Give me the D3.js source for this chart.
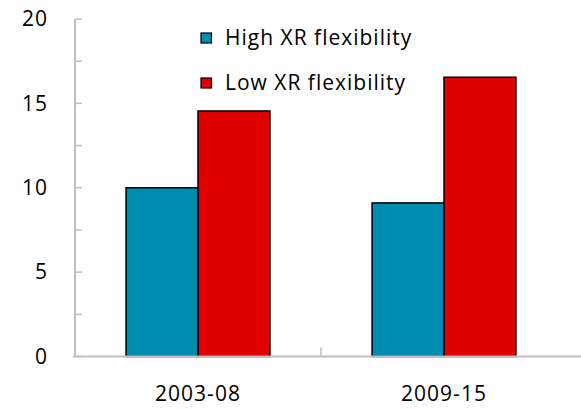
<!DOCTYPE html>
<html><head><meta charset="utf-8">
<script src="https://cdn.jsdelivr.net/npm/d3@7"></script>
<style>body{margin:0;background:#fff}text{font-family:"Open Sans","Noto Sans",sans-serif;fill:#000;letter-spacing:1px}</style>
</head><body><svg id="c" width="581" height="409"></svg>
<script>
const categories = ["2003-08", "2009-15"];
const seriesNames = ["High XR flexibility", "Low XR flexibility"];
const highXR = [10.0, 9.1];
const lowXR = [14.55, 16.55];
const yTicks = [0, 5, 10, 15, 20];
const colors = ["#008CB0", "#E00000"];

const svg = d3.select("#c");
const m = {l: 75, r: 14, t: 19, b: 52};
const W = 581, H = 409;
const x0 = d3.scaleBand().domain(categories).range([m.l, W - m.r]).paddingInner(0).paddingOuter(0);
const x1 = d3.scaleBand().domain(seriesNames).range([0, x0.bandwidth()]).paddingInner(0).paddingOuter(0.71);
const y = d3.scaleLinear().domain([0, 20]).range([356.5, m.t]);

const axisColor = "#BFBFBF";
// y axis
svg.append("line").attr("x1", m.l).attr("x2", m.l).attr("y1", y(20)).attr("y2", y(0)).attr("stroke", axisColor).attr("stroke-width", 2);
const minor = d3.range(0, 20.01, 2.5);
svg.selectAll(".yt").data(minor).join("line").attr("x1", m.l).attr("x2", m.l + 7)
  .attr("y1", d => y(d)).attr("y2", d => y(d)).attr("stroke", axisColor).attr("stroke-width", 1.5);
svg.selectAll(".yl").data(yTicks).join("text").attr("x", 48).attr("y", d => y(d)).attr("dy", "0.35em")
  .attr("text-anchor", "end").attr("font-size", 21).text(d => d);

// bars
const data = categories.map((c, i) => ({c, vals: [highXR[i], lowXR[i]]}));
const g = svg.selectAll(".grp").data(data).join("g").attr("transform", d => `translate(${x0(d.c)},0)`);
g.selectAll("rect").data(d => d.vals.map((v, j) => ({s: seriesNames[j], v, j}))).join("rect")
  .attr("x", d => x1(d.s)).attr("width", x1.bandwidth())
  .attr("y", d => y(d.v)).attr("height", d => y(0) - y(d.v))
  .attr("fill", d => colors[d.j]).attr("stroke", "#000").attr("stroke-width", 1.5);

// x axis
svg.append("line").attr("x1", m.l - 2).attr("x2", W).attr("y1", y(0)).attr("y2", y(0)).attr("stroke", axisColor).attr("stroke-width", 2);
svg.selectAll(".xt").data(categories.slice(1)).join("line").attr("x1", d => x0(d)).attr("x2", d => x0(d))
  .attr("y1", y(0)).attr("y2", y(0) - 9).attr("stroke", axisColor).attr("stroke-width", 1.5);
svg.selectAll(".xl").data(categories).join("text").attr("x", d => x0(d) + x0.bandwidth() / 2).attr("y", 401)
  .attr("text-anchor", "middle").attr("font-size", 21).text(d => d);

// legend
const lg = svg.selectAll(".lg").data(seriesNames).join("g").attr("transform", (d, i) => `translate(201,${33 + i * 45})`);
lg.append("rect").attr("width", 10.5).attr("height", 10).attr("fill", (d, i) => colors[i]).attr("stroke", "#000").attr("stroke-width", 1.2);
lg.append("text").attr("x", 24).attr("y", 5).attr("dy", "0.35em").attr("font-size", 21).text(d => d);
</script></body></html>
